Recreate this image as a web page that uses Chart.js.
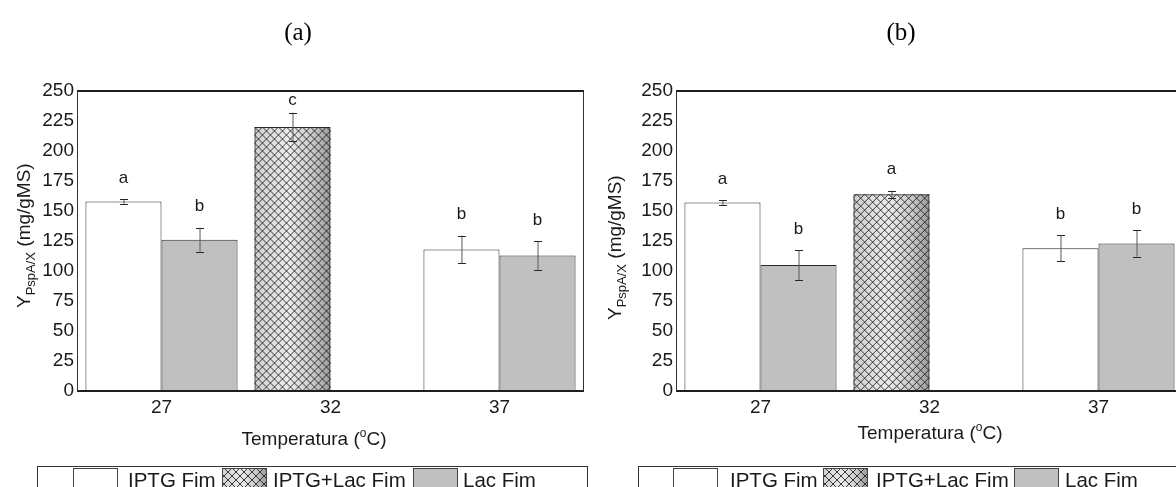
<!DOCTYPE html>
<html>
<head>
<meta charset="utf-8">
<script src="https://cdn.jsdelivr.net/npm/chart.js@4.4.1/dist/chart.umd.min.js"></script>
<style>
  html, body { margin: 0; padding: 0; background: #fff; overflow: hidden; width: 1176px; height: 487px; }
  .panel { position: absolute; top: 0; width: 600px; height: 487px; }
  #wrapA { left: 0; }
  #wrapB { left: 600px; }
  canvas { display: block; }
</style>
</head>
<body>
<div class="panel" id="wrapA"><canvas id="chartA" width="600" height="487"></canvas></div>
<div class="panel" id="wrapB"><canvas id="chartB" width="600" height="487"></canvas></div>
<script>
// Temperature groups and series names
const temperatures = ['27', '32', '37'];
const seriesNames = ['IPTG Fim', 'IPTG+Lac Fim', 'Lac Fim'];
const yTickValues = [0, 25, 50, 75, 100, 125, 150, 175, 200, 225, 250];

// Panel (a): yield values (mg/gMS)
const iptgFimA = [158, null, 118];
const iptgLacFimA = [null, 220, null];
const lacFimA = [126, null, 113];
// Panel (a): error bar half-widths
const iptgFimErrA = [2, null, 11.5];
const iptgLacFimErrA = [null, 12, null];
const lacFimErrA = [10, null, 12];
// Panel (a): significance letters
const iptgFimLetA = ['a', null, 'b'];
const iptgLacFimLetA = [null, 'c', null];
const lacFimLetA = ['b', null, 'b'];

// Panel (b): yield values (mg/gMS)
const iptgFimB = [157, null, 119];
const iptgLacFimB = [null, 164, null];
const lacFimB = [105, null, 123];
// Panel (b): error bar half-widths
const iptgFimErrB = [2, null, 11];
const iptgLacFimErrB = [null, 3, null];
const lacFimErrB = [12.5, null, 11];
// Panel (b): significance letters
const iptgFimLetB = ['a', null, 'b'];
const iptgLacFimLetB = [null, 'a', null];
const lacFimLetB = ['b', null, 'b'];

const SANS = "'Liberation Sans', Arial, sans-serif";
const SERIF = "'Liberation Serif', 'Times New Roman', serif";
const TEXT = '#1a1a1a';

// Cross-hatched fill with a soft horizontal shading
function paintHatch(ctx, left, top, w, h) {
  ctx.save();
  ctx.beginPath();
  ctx.rect(left, top, w, h);
  ctx.clip();
  const g = ctx.createLinearGradient(left, 0, left + w, 0);
  g.addColorStop(0, '#cfcfcf');
  g.addColorStop(0.45, '#ececec');
  g.addColorStop(0.78, '#c8c8c8');
  g.addColorStop(1, '#9a9a9a');
  ctx.fillStyle = g;
  ctx.fillRect(left, top, w, h);
  ctx.strokeStyle = '#262626';
  ctx.lineWidth = 0.9;
  ctx.beginPath();
  const step = 8;
  for (let k = -h - step; k < w + h + step; k += step) {
    ctx.moveTo(left + k, top);
    ctx.lineTo(left + k + h, top + h);
    ctx.moveTo(left + k, top);
    ctx.lineTo(left + k - h, top + h);
  }
  ctx.stroke();
  ctx.restore();
}

function makePanel(canvasId, panel) {
  const L = panel.layout;
  const YW = 60, XH = 40;

  const decor = {
    id: 'decor',
    beforeDatasetDraw(chart, args) {
      // hatched series: shading + cross-hatch under the bar outline
      if (args.index !== 1) return;
      const ctx = chart.ctx;
      args.meta.data.forEach((el, i) => {
        if (panel.values[1][i] == null) return;
        const p = el.getProps(['x', 'y', 'base', 'width'], true);
        paintHatch(ctx, p.x - p.width / 2, p.y, p.width, p.base - p.y);
      });
    },
    afterDatasetsDraw(chart) {
      const ctx = chart.ctx;
      const ca = chart.chartArea;
      const ys = chart.scales.y;
      // error bars and letters
      panel.values.forEach((vals, d) => {
        const meta = chart.getDatasetMeta(d);
        vals.forEach((v, i) => {
          if (v == null) return;
          const el = meta.data[i];
          const x = el.x;
          const e = panel.errors[d][i];
          const yHi = ys.getPixelForValue(v + e);
          const yLo = ys.getPixelForValue(v - e);
          ctx.save();
          ctx.lineWidth = 1;
          ctx.strokeStyle = '#5a5a5a';
          ctx.beginPath();
          ctx.moveTo(x + 0.5, yHi);
          ctx.lineTo(x + 0.5, yLo);
          ctx.stroke();
          ctx.strokeStyle = '#262626';
          ctx.beginPath();
          ctx.moveTo(x - 3.5, Math.round(yHi) + 0.5);
          ctx.lineTo(x + 4.5, Math.round(yHi) + 0.5);
          ctx.moveTo(x - 3.5, Math.round(yLo) + 0.5);
          ctx.lineTo(x + 4.5, Math.round(yLo) + 0.5);
          ctx.stroke();
          const letter = panel.letters[d][i];
          if (letter) {
            const ly = Math.max(yHi - 21, ca.top + 9);
            ctx.fillStyle = TEXT;
            ctx.font = '17px ' + SANS;
            ctx.textAlign = 'center';
            ctx.textBaseline = 'middle';
            ctx.fillText(letter, x, ly);
          }
          ctx.restore();
        });
      });
      // plot frame
      ctx.save();
      ctx.strokeStyle = '#1e1e1e';
      ctx.lineWidth = 2;
      ctx.beginPath();
      ctx.moveTo(ca.left, ca.top);
      ctx.lineTo(ca.right, ca.top);
      ctx.moveTo(ca.left, ca.bottom);
      ctx.lineTo(ca.right, ca.bottom);
      ctx.stroke();
      ctx.lineWidth = 1;
      ctx.strokeStyle = '#333';
      ctx.beginPath();
      ctx.moveTo(ca.left + 0.5, ca.top);
      ctx.lineTo(ca.left + 0.5, ca.bottom);
      ctx.moveTo(ca.right - 0.5, ca.top);
      ctx.lineTo(ca.right - 0.5, ca.bottom);
      ctx.stroke();
      ctx.restore();
    },
    afterDraw(chart) {
      const ctx = chart.ctx;
      ctx.save();
      // panel title
      ctx.fillStyle = '#000';
      ctx.font = '25px ' + SERIF;
      ctx.textAlign = 'center';
      ctx.textBaseline = 'alphabetic';
      ctx.fillText(panel.title, L.titleX, L.titleY);

      // y-axis title with subscript
      ctx.translate(L.yTitleX, L.yTitleY);
      ctx.rotate(-Math.PI / 2);
      ctx.textAlign = 'left';
      ctx.fillStyle = TEXT;
      ctx.font = '19px ' + SANS;
      const wY = ctx.measureText('Y').width;
      ctx.fillText('Y', 0, 0);
      ctx.font = '13px ' + SANS;
      const wSub = ctx.measureText('PspA/X').width;
      ctx.fillText('PspA/X', wY, 5);
      ctx.font = '19px ' + SANS;
      ctx.fillText(' (mg/gMS)', wY + wSub, 0);
      ctx.setTransform(1, 0, 0, 1, 0, 0);

      // x-axis title with raised "o"
      ctx.font = '19px ' + SANS;
      const p1 = 'Temperatura (', p3 = 'C)';
      const w1 = ctx.measureText(p1).width;
      const w3 = ctx.measureText(p3).width;
      ctx.font = '12px ' + SANS;
      const w2 = ctx.measureText('o').width;
      const x0 = L.xTitleX - (w1 + w2 + w3) / 2;
      ctx.font = '19px ' + SANS;
      ctx.fillText(p1, x0, L.xTitleY);
      ctx.font = '12px ' + SANS;
      ctx.fillText('o', x0 + w1, L.xTitleY - 8);
      ctx.font = '19px ' + SANS;
      ctx.fillText(p3, x0 + w1 + w2, L.xTitleY);

      // legend box
      ctx.strokeStyle = '#333';
      ctx.lineWidth = 1;
      ctx.strokeRect(L.legLeft + 0.5, L.legTop + 0.5, L.legRight - L.legLeft, 60);
      ctx.font = '20.5px ' + SANS;
      ctx.textBaseline = 'alphabetic';
      seriesNames.forEach((name, d) => {
        const sx = L.swatchX[d];
        const sy = L.legTop + 2;
        if (d === 1) {
          paintHatch(ctx, sx, sy, 44, 30);
        } else {
          ctx.fillStyle = d === 0 ? '#ffffff' : '#c0c0c0';
          ctx.fillRect(sx, sy, 44, 30);
        }
        ctx.strokeStyle = '#444';
        ctx.strokeRect(sx + 0.5, sy + 0.5, 44, 30);
        ctx.fillStyle = TEXT;
        ctx.fillText(name, L.textX[d], L.legTop + 21);
      });
      ctx.restore();
    }
  };

  const fills = ['#ffffff', 'rgba(0,0,0,0)', '#c0c0c0'];
  const stacks = ['left', 'left', 'right'];

  return new Chart(document.getElementById(canvasId), {
    type: 'bar',
    data: {
      labels: temperatures,
      datasets: panel.values.map((vals, d) => ({
        label: seriesNames[d],
        data: vals,
        stack: stacks[d],
        backgroundColor: fills[d],
        borderColor: '#2a2a2a',
        borderWidth: 1,
        categoryPercentage: 0.9,
        barPercentage: 1.0
      }))
    },
    options: {
      responsive: false,
      animation: false,
      layout: {
        padding: {
          left: L.left - YW,
          right: 600 - L.right,
          top: L.top,
          bottom: 487 - L.bottom - XH
        }
      },
      plugins: {
        legend: { display: false },
        title: { display: false },
        tooltip: { enabled: false }
      },
      scales: {
        x: {
          stacked: true,
          grid: { display: false, drawTicks: false },
          border: { display: false },
          ticks: { color: TEXT, font: { family: SANS, size: 19 }, padding: 5, maxRotation: 0 },
          afterFit(s) { s.height = XH; }
        },
        y: {
          stacked: false,
          min: 0,
          max: 250,
          afterBuildTicks(s) { s.ticks = yTickValues.map(v => ({ value: v })); },
          grid: { display: false, drawTicks: false },
          border: { display: false },
          ticks: { color: TEXT, font: { family: SANS, size: 19 }, padding: 3 },
          afterFit(s) { s.width = YW; }
        }
      }
    },
    plugins: [decor]
  });
}

makePanel('chartA', {
  title: '(a)',
  values: [iptgFimA, iptgLacFimA, lacFimA],
  errors: [iptgFimErrA, iptgLacFimErrA, lacFimErrA],
  letters: [iptgFimLetA, iptgLacFimLetA, lacFimLetA],
  layout: {
    left: 77, right: 584, top: 91, bottom: 391,
    titleX: 298, titleY: 40,
    yTitleX: 30, yTitleY: 308,
    xTitleX: 314, xTitleY: 445,
    legLeft: 37, legRight: 587, legTop: 466,
    swatchX: [73, 222, 413], textX: [128, 273, 463]
  }
});

makePanel('chartB', {
  title: '(b)',
  values: [iptgFimB, iptgLacFimB, lacFimB],
  errors: [iptgFimErrB, iptgLacFimErrB, lacFimErrB],
  letters: [iptgFimLetB, iptgLacFimLetB, lacFimLetB],
  layout: {
    left: 76, right: 583, top: 91, bottom: 391,
    titleX: 301, titleY: 40,
    yTitleX: 21, yTitleY: 320,
    xTitleX: 330, xTitleY: 439,
    legLeft: 38, legRight: 620, legTop: 466,
    swatchX: [73, 223, 414], textX: [130, 276, 465]
  }
});
</script>
</body>
</html>
